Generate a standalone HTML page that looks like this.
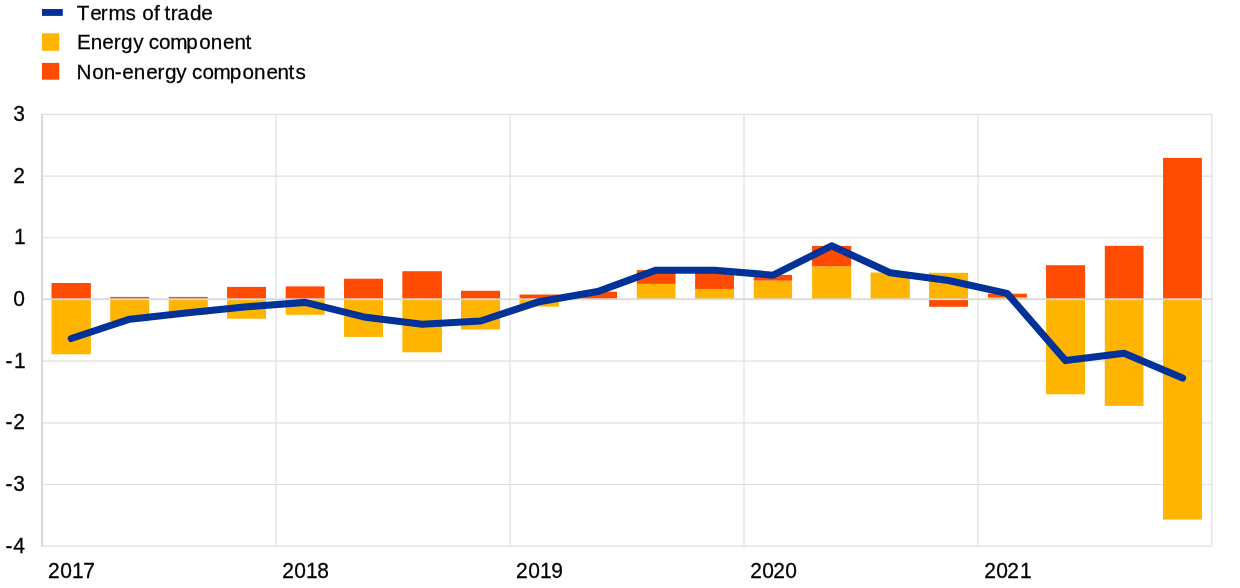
<!DOCTYPE html>
<html lang="en">
<head>
<meta charset="utf-8">
<title>Terms of trade</title>
<style>
html,body{margin:0;padding:0;background:#fff;}
body{width:1240px;height:588px;overflow:hidden;}
</style>
</head>
<body>
<svg width="1240" height="588" viewBox="0 0 1240 588" style="display:block">
<rect width="1240" height="588" fill="#ffffff"/>
<g stroke="#D9D9D9" stroke-width="1.2" fill="none" opacity="0.82">
<line x1="42.0" x2="1212.3" y1="546.20" y2="546.20"/>
<line x1="42.0" x2="1212.3" y1="484.51" y2="484.51"/>
<line x1="42.0" x2="1212.3" y1="422.83" y2="422.83"/>
<line x1="42.0" x2="1212.3" y1="361.14" y2="361.14"/>
<line x1="42.0" x2="1212.3" y1="237.77" y2="237.77"/>
<line x1="42.0" x2="1212.3" y1="176.09" y2="176.09"/>
<line x1="42.0" x2="1212.3" y1="114.40" y2="114.40"/>
<line x1="276.00" x2="276.00" y1="114.4" y2="546.2"/>
<line x1="510.00" x2="510.00" y1="114.4" y2="546.2"/>
<line x1="744.00" x2="744.00" y1="114.4" y2="546.2"/>
<line x1="978.00" x2="978.00" y1="114.4" y2="546.2"/>
<line x1="1211.80" x2="1211.80" y1="114.4" y2="546.2"/>
</g>
<rect x="41" y="113.80" width="2.1" height="433.00" fill="#D9D9D9"/>
<rect x="51.50" y="299.30" width="39.35" height="55.00" fill="#FFB400"/>
<rect x="51.50" y="283.00" width="39.35" height="16.30" fill="#FF4B00"/>
<rect x="110.23" y="299.30" width="39.00" height="21.90" fill="#FFB400"/>
<rect x="110.23" y="296.90" width="39.00" height="2.40" fill="#FF4B00"/>
<rect x="168.72" y="299.30" width="39.00" height="15.50" fill="#FFB400"/>
<rect x="168.72" y="296.90" width="39.00" height="2.40" fill="#FF4B00"/>
<rect x="227.05" y="299.30" width="38.95" height="19.40" fill="#FFB400"/>
<rect x="227.05" y="286.90" width="38.95" height="12.40" fill="#FF4B00"/>
<rect x="285.70" y="299.30" width="38.90" height="15.50" fill="#FFB400"/>
<rect x="285.70" y="286.40" width="38.90" height="12.90" fill="#FF4B00"/>
<rect x="344.00" y="299.30" width="39.00" height="37.60" fill="#FFB400"/>
<rect x="344.00" y="278.70" width="39.00" height="20.60" fill="#FF4B00"/>
<rect x="402.35" y="299.30" width="39.55" height="53.00" fill="#FFB400"/>
<rect x="402.35" y="271.20" width="39.55" height="28.10" fill="#FF4B00"/>
<rect x="461.00" y="299.30" width="39.10" height="30.30" fill="#FFB400"/>
<rect x="461.00" y="290.80" width="39.10" height="8.50" fill="#FF4B00"/>
<rect x="519.50" y="299.30" width="39.40" height="7.30" fill="#FFB400"/>
<rect x="519.50" y="294.50" width="39.40" height="4.80" fill="#FF4B00"/>
<rect x="578.00" y="291.70" width="39.00" height="7.60" fill="#FF4B00"/>
<rect x="636.80" y="283.90" width="38.70" height="15.40" fill="#FFB400"/>
<rect x="636.80" y="270.10" width="38.70" height="13.80" fill="#FF4B00"/>
<rect x="695.10" y="288.95" width="38.90" height="10.35" fill="#FFB400"/>
<rect x="695.10" y="270.00" width="38.90" height="18.95" fill="#FF4B00"/>
<rect x="753.80" y="280.60" width="38.30" height="18.70" fill="#FFB400"/>
<rect x="753.80" y="274.90" width="38.30" height="5.70" fill="#FF4B00"/>
<rect x="812.10" y="266.30" width="39.10" height="33.00" fill="#FFB400"/>
<rect x="812.10" y="245.90" width="39.10" height="20.40" fill="#FF4B00"/>
<rect x="870.60" y="272.50" width="39.25" height="26.80" fill="#FFB400"/>
<rect x="929.10" y="272.80" width="38.95" height="26.50" fill="#FFB400"/>
<rect x="929.10" y="299.30" width="38.95" height="7.50" fill="#FF4B00"/>
<rect x="987.95" y="297.30" width="38.95" height="2.00" fill="#FFB400"/>
<rect x="987.95" y="293.70" width="38.95" height="3.60" fill="#FF4B00"/>
<rect x="1046.07" y="299.30" width="39.00" height="95.00" fill="#FFB400"/>
<rect x="1046.07" y="265.20" width="39.00" height="34.10" fill="#FF4B00"/>
<rect x="1104.80" y="299.30" width="38.70" height="106.60" fill="#FFB400"/>
<rect x="1104.80" y="245.80" width="38.70" height="53.50" fill="#FF4B00"/>
<rect x="1163.05" y="299.30" width="38.85" height="220.30" fill="#FFB400"/>
<rect x="1163.05" y="157.90" width="38.85" height="141.40" fill="#FF4B00"/>
<rect x="41" y="298.3" width="1171.30" height="1.85" fill="#D9D9D9"/>
<polyline points="71.25,338.50 129.73,319.20 188.22,312.70 246.71,306.80 305.20,302.40 363.69,316.90 422.18,324.30 480.67,321.00 539.16,301.70 597.65,291.60 656.14,270.20 714.63,270.20 773.12,275.20 831.61,245.80 890.10,272.70 948.59,280.50 1007.08,293.40 1065.57,360.60 1124.06,353.30 1182.55,378.10" fill="none" stroke="#003299" stroke-width="7.1" stroke-linejoin="round" stroke-linecap="round"/>
<rect x="42" y="9" width="20.8" height="6.9" fill="#003299"/>
<rect x="42" y="33.3" width="17.25" height="17.5" fill="#FFB400"/>
<rect x="42" y="62.9" width="17.25" height="16.8" fill="#FF4B00"/>
<g font-family="'Liberation Sans', sans-serif" font-size="21.0" fill="#000000" stroke="#000000" stroke-width="0.25" style="font-kerning:none">
<text transform="translate(0 19.90) scale(1 1.02)" x="76.65 90.18 100.83 108.41 125.47 136.47 142.21 154.13 165.13 164.50 170.82 177.55 190.06 201.33" y="0" font-size="20.7">Terms of trade</text>
<text transform="translate(0 49.10) scale(1 1.02)" x="77.12 90.66 102.24 113.73 121.07 133.21 144.21 148.84 159.12 170.24 186.33 199.20 210.73 223.13 234.52 245.56" y="0" font-size="20.7">Energy component</text>
<text transform="translate(0 78.80) scale(1 1.02)" x="76.42 92.34 103.75 114.76 122.26 133.76 146.22 157.54 165.05 176.15 187.15 192.07 202.43 213.45 229.66 242.45 253.93 266.44 277.47 288.62 295.49" y="0" font-size="20.7">Non-energy components</text>
<text transform="translate(0 552.80) scale(1 1.03)" x="5.6 13.2" y="0">-4</text>
<text transform="translate(0 491.10) scale(1 1.03)" x="5.6 13.2" y="0">-3</text>
<text transform="translate(0 429.40) scale(1 1.03)" x="5.6 13.2" y="0">-2</text>
<text transform="translate(0 367.70) scale(1 1.03)" x="5.6 14.1" y="0">-1</text>
<text transform="translate(0 306.00) scale(1 1.03)" x="13.2" y="0">0</text>
<text transform="translate(0 244.30) scale(1 1.03)" x="14.1" y="0">1</text>
<text transform="translate(0 182.60) scale(1 1.03)" x="13.2" y="0">2</text>
<text transform="translate(0 121.00) scale(1 1.03)" x="13.2" y="0">3</text>
<text transform="translate(0 578) scale(1 1.03)" x="48.11 60.19 72.02 83.14" y="0">2017</text>
<text transform="translate(0 578) scale(1 1.03)" x="282.15 294.15 306.10 317.19" y="0">2018</text>
<text transform="translate(0 578) scale(1 1.03)" x="516.12 528.16 540.08 551.23" y="0">2019</text>
<text transform="translate(0 578) scale(1 1.03)" x="750.14 762.17 773.18 785.32" y="0">2020</text>
<text transform="translate(0 578) scale(1 1.03)" x="984.16 996.15 1007.22 1020.07" y="0">2021</text>
</g>
</svg>
</body>
</html>
